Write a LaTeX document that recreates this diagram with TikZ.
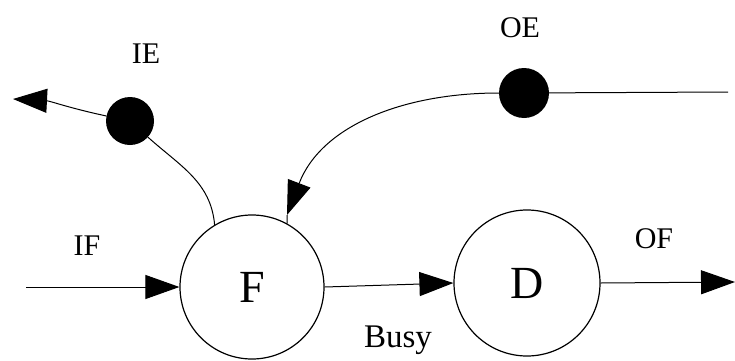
\documentclass[tikz,border=0pt]{standalone}
\usepackage{fontspec}
\setmainfont{Liberation Serif}
\usetikzlibrary{arrows.meta}
\begin{document}
\begin{tikzpicture}[x=1pt,y=1pt,
  state/.style={circle,draw,line width=1.2pt,minimum size=144pt,inner sep=0pt,font=\fontsize{46}{46}\selectfont},
  event/.style={circle,fill=black,inner sep=0pt},
  lbl/.style={anchor=base,font=\fontsize{30}{30}\selectfont},
  flow/.style={line width=1pt,-{Triangle[length=34pt,width=24pt]}},
  plain/.style={line width=1pt}]
\useasboundingbox (0,0) rectangle (735,360);
\node[state] (F) at (252,73) {F};
\node[state,minimum size=146pt] (D) at (527,77) {D};
\node[event,minimum size=48pt] (IEd) at (130,239) {};
\node[event,minimum size=50pt] (OEd) at (524,267) {};
\coordinate (ifs) at (26,73);
\coordinate (ofe) at (735,78);
\coordinate (oer) at (728,268);
\coordinate (iet) at (13,261);
\coordinate (oetip) at (287,145);
\draw[flow] (ifs) -- (F.west);
\draw[flow] (F.east) -- (D.west);
\draw[flow] (D.east) -- (ofe);
\draw[plain] (OEd) -- (oer);
\draw[plain] (F.121) to[out=95,in=-42] (IEd);
\draw[flow] (IEd) to[out=168,in=-3] (iet);
\draw[flow] (OEd) to[out=180,in=69] (oetip);
\draw[plain] (oetip) -- (F.61);
\node[lbl] (IE) at (146,297) {IE};
\node[lbl] (OE) at (520,323) {OE};
\node[lbl] (IF) at (87,105) {IF};
\node[lbl] (OF) at (654,112) {OF};
\node[lbl,font=\fontsize{33}{33}\selectfont] (busy) at (398,13) {Busy};
\end{tikzpicture}
\end{document}
